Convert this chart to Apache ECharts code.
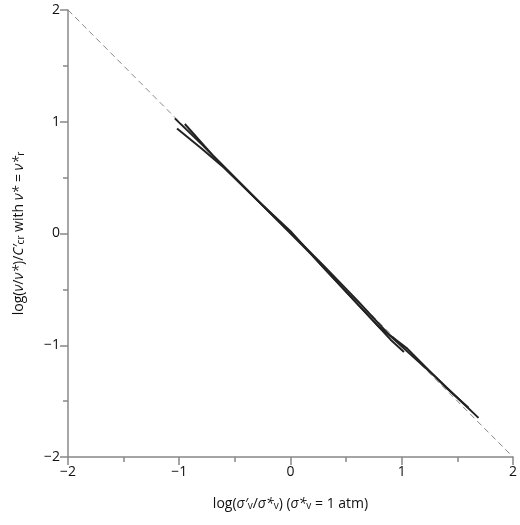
<!DOCTYPE html><html><head><meta charset="utf-8"><script src="https://cdn.jsdelivr.net/npm/echarts@6/dist/echarts.min.js"></script></head><body style="margin:0"><div id="c" style="width:520px;height:525px"></div><script>
const refLine=[[-2,2],[2,-2]];
const curveA=[[-1.04,1.03],[-0.8,0.8],[-0.5,0.5],[-0.2,0.2],[0,0.01],[0.3,-0.29],[0.6,-0.6],[0.9,-0.92],[1.1,-1.1],[1.3,-1.28],[1.5,-1.47],[1.69,-1.65]];
const curveB=[[-1.02,0.94],[-0.8,0.76],[-0.6,0.59],[-0.3,0.3],[0,0.02],[0.3,-0.31],[0.6,-0.63],[0.9,-0.95],[1.02,-1.06]];
const curveC=[[-0.95,0.98],[-0.7,0.7],[-0.4,0.4],[-0.1,0.1],[0.2,-0.2],[0.5,-0.52],[0.8,-0.84],[1.05,-1.03],[1.2,-1.18],[1.4,-1.38],[1.6,-1.56]];
const ticks=[-2,-1,0,1,2];
const F='Open Sans';
const rich={i:{fontStyle:'italic',fontSize:14,fontFamily:F,color:'#111'},s:{fontSize:10,fontFamily:F,color:'#111',verticalAlign:'bottom'},si:{fontSize:10,fontStyle:'italic',fontFamily:F,color:'#111',verticalAlign:'bottom'}};
const ax={min:-2,max:2,interval:1,axisLine:{onZero:false,lineStyle:{color:'#888',width:1.5}},axisTick:{inside:false,length:8,lineStyle:{color:'#888',width:1.5}},minorTick:{show:true,splitNumber:2,length:5,lineStyle:{color:'#888',width:1.5}},splitLine:{show:false},axisLabel:{color:'#111',fontSize:14,fontFamily:F,formatter:v=>ticks.includes(v)?String(v).replace('-','\u2212'):''}};
const ch=echarts.init(document.getElementById('c'));
const ls=(d)=>({type:'line',data:d,showSymbol:false,lineStyle:{color:'#222',width:2},z:3});
ch.setOption({animation:false,grid:{left:68,right:5,top:10,bottom:68},
xAxis:Object.assign({type:'value',name:'log({i|σ′}{s|v}/{i|σ*}{s|v}) ({i|σ*}{s|v} = 1 atm)',nameLocation:'middle',nameGap:40,nameTextStyle:{fontSize:14,fontFamily:F,color:'#111',rich}},ax),
yAxis:Object.assign({type:'value',name:'log({i|ν}/{i|ν*})/{i|C′}{s|cr} with {i|ν*} = {i|ν*}{s|r}',nameLocation:'middle',nameGap:42,nameTextStyle:{fontSize:14,fontFamily:F,color:'#111',rich}},ax),
series:[{type:'line',data:refLine,showSymbol:false,lineStyle:{color:'#888',width:1,type:[6,4]}},ls(curveA),ls(curveB),ls(curveC)]});
</script></body></html>
